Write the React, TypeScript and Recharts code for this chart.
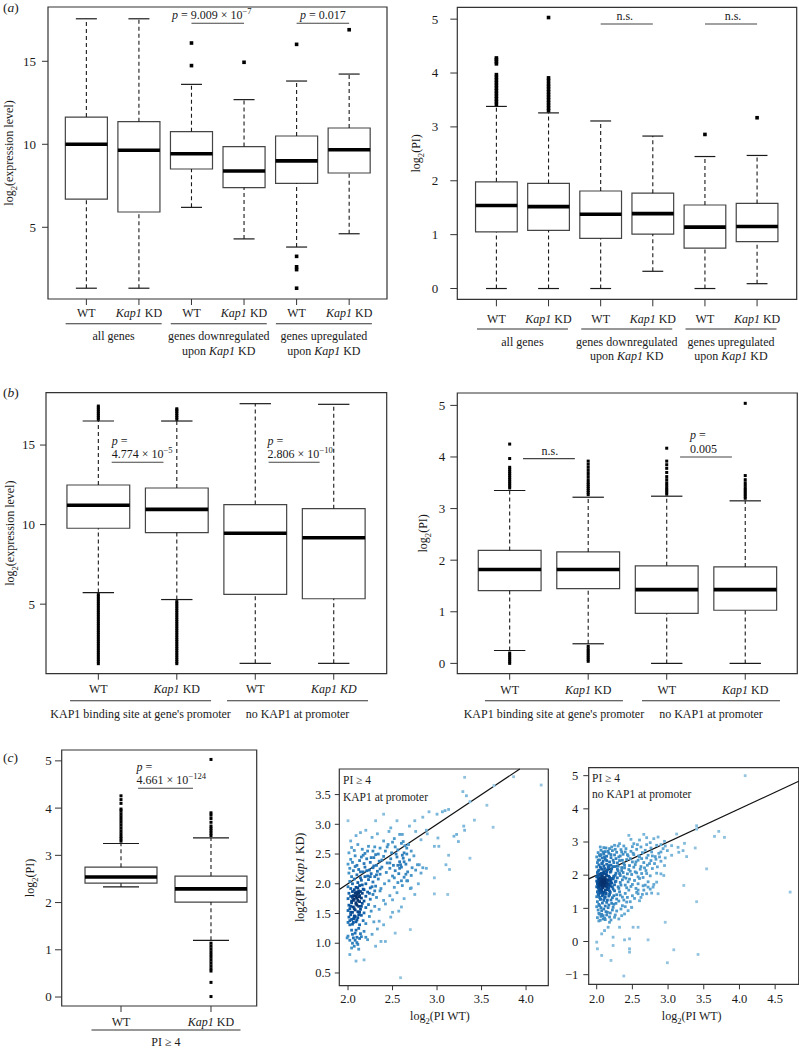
import React from "react";
import { ComposedChart, ScatterChart, Scatter, XAxis, YAxis, ReferenceArea, ReferenceLine } from "recharts";

const FONT = "'Liberation Serif', Tinos, 'Times New Roman', Times, serif";
const INK = "#1a1a1a";
const FRAME = "#333";

// ---------- (a) expression / PI by regulation group ----------
const aPositions = [1, 2, 3, 4, 5, 6];
const aConditions = ["WT", "_Kap1_ KD", "WT", "_Kap1_ KD", "WT", "_Kap1_ KD"];
const aGroupCenters = [1.5, 3.5, 5.5];
const aGroups = [["all genes"], ["genes downregulated", "upon _Kap1_ KD"], ["genes upregulated", "upon _Kap1_ KD"]];

const aExprLow = [1.33, 1.33, 6.2, 4.3, 3.81, 4.61];
const aExprQ1 = [6.7, 5.92, 8.51, 7.39, 7.65, 8.27];
const aExprMed = [10.0, 9.64, 9.43, 8.39, 9.0, 9.67];
const aExprQ3 = [11.64, 11.36, 10.76, 9.86, 10.5, 10.98];
const aExprHigh = [17.56, 17.56, 13.61, 12.69, 13.81, 14.23];
const aExprOut = [[], [], [16.1, 14.74], [14.94], [16.02, 3.25, 2.62, 2.45, 1.33], [16.9]];
const aExprBrackets = [
  { from: 3, to: 4, y: 17.29, lines: ["_p_ = 9.009 × 10^−7^"], align: "middle", dx: -6 },
  { from: 5, to: 6, y: 17.29, lines: ["_p_ = 0.017"], align: "middle", dx: 0 },
];

const aPiLow = [0, 0, 0, 0.32, 0, 0.09];
const aPiQ1 = [1.05, 1.08, 0.93, 1.01, 0.75, 0.87];
const aPiMed = [1.54, 1.52, 1.38, 1.39, 1.14, 1.15];
const aPiQ3 = [1.98, 1.95, 1.81, 1.77, 1.55, 1.58];
const aPiHigh = [3.38, 3.26, 3.11, 2.83, 2.45, 2.47];
const aPiOut = [
  [3.42, 3.47, 3.52, 3.57, 3.62, 3.67, 3.72, 3.77, 3.82, 3.87, 3.92, 3.97, 4.17, 4.21, 4.25, 4.28],
  [3.3, 3.35, 3.4, 3.45, 3.5, 3.55, 3.6, 3.65, 3.7, 3.75, 3.8, 3.86, 3.91, 5.03],
  [], [], [2.86], [3.17],
];
const aPiBrackets = [
  { from: 3, to: 4, y: 4.91, lines: ["n.s."], align: "middle", dx: -2 },
  { from: 5, to: 6, y: 4.91, lines: ["n.s."], align: "middle", dx: 2 },
];

// ---------- (b) KAP1 binding at promoter ----------
const bPositions = [1, 2, 3, 4];
const bConditions = ["WT", "_Kap1_ KD", "WT", "_Kap1 KD_"];
const bPiConditions = ["WT", "_Kap1_ KD", "WT", "_Kap1_ KD"];
const bGroupCenters = [1.5, 3.5];
const bGroups = [["KAP1 binding site at gene's promoter"], ["no KAP1 at promoter"]];

const bExprLow = [5.73, 5.29, 1.28, 1.28];
const bExprQ1 = [9.77, 9.5, 5.61, 5.34];
const bExprMed = [11.22, 10.96, 9.46, 9.17];
const bExprQ3 = [12.49, 12.3, 11.26, 11.0];
const bExprHigh = [16.51, 16.51, 17.6, 17.56];
const bExprOut = [
  [16.62, 16.74, 16.86, 16.98, 17.1, 17.22, 17.34, 17.45, 5.6, 5.46, 5.32, 5.18, 5.04, 4.9, 4.76, 4.62, 4.48, 4.34, 4.2,
    4.06, 3.92, 3.78, 3.64, 3.5, 3.36, 3.22, 3.08, 2.94, 2.8, 2.66, 2.52, 2.38, 2.24, 2.1, 1.96, 1.82, 1.68, 1.54, 1.4, 1.26],
  [16.62, 16.74, 16.86, 16.98, 17.1, 17.2, 17.28, 5.16, 5.02, 4.88, 4.74, 4.6, 4.46, 4.32, 4.18, 4.04, 3.9, 3.76, 3.62,
    3.48, 3.34, 3.2, 3.06, 2.92, 2.78, 2.64, 2.5, 2.36, 2.22, 2.08, 1.94, 1.8, 1.66, 1.52, 1.38, 1.26],
  [], [],
];
const bExprBrackets = [
  { from: 1.17, to: 1.83, y: 13.92, lines: ["_p_ =", "4.774 × 10^−5^"], align: "start", dx: 0 },
  { from: 3.17, to: 3.82, y: 13.92, lines: ["_p_ =", "2.806 × 10^−10^"], align: "start", dx: -1 },
];

const bPiLow = [0.25, 0.38, 0, 0];
const bPiQ1 = [1.41, 1.45, 0.97, 1.03];
const bPiMed = [1.82, 1.82, 1.43, 1.43];
const bPiQ3 = [2.19, 2.16, 1.89, 1.87];
const bPiHigh = [3.35, 3.22, 3.24, 3.15];
const bPiOut = [
  [3.4, 3.44, 3.48, 3.52, 3.56, 3.6, 3.64, 3.68, 3.72, 3.76, 3.8, 3.97, 4.25, 0.2, 0.16, 0.12, 0.08, 0.04, 0.0],
  [3.27, 3.31, 3.35, 3.39, 3.43, 3.47, 3.51, 3.56, 3.62, 3.68, 3.74, 3.8, 3.86, 3.92, 0.33, 0.28, 0.24, 0.2, 0.16, 0.12, 0.08, 0.04],
  [3.28, 3.32, 3.36, 3.4, 3.45, 3.5, 3.56, 3.62, 3.7, 3.78, 3.85, 3.92, 4.17],
  [3.2, 3.24, 3.28, 3.32, 3.36, 3.4, 3.45, 3.5, 3.56, 3.64, 5.04],
];
const bPiBrackets = [
  { from: 1.17, to: 1.83, y: 3.97, lines: ["n.s."], align: "middle", dx: 1 },
  { from: 3.17, to: 3.83, y: 4.0, lines: ["_p_ =", "0.005"], align: "start", dx: 10 },
];

// ---------- (c) PI >= 4 ----------
const cPositions = [1, 2];
const cConditions = ["WT", "_Kap1_ KD"];
const cGroupCenters = [1.5];
const cGroups = [["PI ≥ 4"]];
const cLow = [2.33, 1.2];
const cQ1 = [2.41, 2.01];
const cMed = [2.54, 2.29];
const cQ3 = [2.75, 2.56];
const cHigh = [3.25, 3.37];
const cOut = [
  [3.3, 3.35, 3.4, 3.46, 3.52, 3.58, 3.64, 3.7, 3.76, 3.82, 3.88, 3.94, 3.98, 4.1, 4.18, 4.26],
  [3.42, 3.47, 3.52, 3.57, 3.62, 3.7, 3.78, 3.85, 3.9, 5.03, 1.14, 1.08, 1.02, 0.96, 0.9, 0.84, 0.78, 0.72, 0.66, 0.6, 0.55, 0.31, 0.01],
];
const cBrackets = [{ from: 1.19, to: 1.8, y: 4.42, lines: ["_p_ =", "4.661 × 10^−124^"], align: "start", dx: -1.5 }];

// log2(PI WT) vs log2(PI Kap1 KD), KAP1 at promoter
const kapPromoterPoints: [number, number][] = [
  [3.31, 3.79], [4.17, 3.66], [3.86, 3.8], [3.64, 3.65], [3.33, 3.48], [3.29, 3.55], [3.37, 3.38], [3.56, 3.32], [3.63, 2.95],
  [3.42, 3.07], [3.3, 2.97], [3.31, 2.9], [3.22, 2.83], [3.24, 2.71], [3.37, 2.43], [3.19, 2.8], [3.13, 2.48], [3.1, 2.32],
  [3.14, 2.24], [3.12, 1.82], [2.97, 1.83], [3.06, 3.21], [3.09, 3.23], [3.13, 3.25], [3.0, 3.17], [2.91, 3.21], [3.01, 2.77],
  [3.02, 2.63], [2.97, 2.63], [2.89, 2.84], [2.88, 2.9], [2.82, 2.74], [2.76, 2.88], [2.69, 2.97], [2.75, 3.06], [2.84, 3.12],
  [2.4, 3.17], [2.55, 3.06], [2.48, 2.94], [2.61, 2.83], [2.0, 3.06], [2.2, 2.9], [2.31, 3.06], [2.8, 2.32], [2.84, 2.27],
  [2.72, 2.27], [2.65, 2.16], [2.67, 2.05], [2.71, 1.93], [2.75, 1.82], [2.57, 1.54], [2.35, 1.37], [2.53, 1.17], [2.31, 0.95],
  [2.02, 0.81], [2.09, 0.7], [2.18, 0.72], [2.59, 0.42], [1.99, 1.09], [2.7, 1.23], [2.5, 1.73], [2.97, 2.1], [2.59, 2.32],
  [2.03, 2.72], [2.09, 2.81], [2.14, 2.86], [2.27, 2.78], [2.33, 2.84], [2.4, 2.72], [2.46, 2.88], [2.52, 2.76], [2.58, 2.83],
  [2.62, 2.71], [2.68, 2.66], [2.01, 2.52], [2.04, 2.61], [2.07, 2.56], [2.11, 2.66], [2.16, 2.58], [2.19, 2.51], [2.23, 2.63],
  [2.28, 2.55], [2.31, 2.49], [2.36, 2.6], [2.42, 2.55], [2.45, 2.66], [2.49, 2.52], [2.53, 2.62], [2.56, 2.57], [2.6, 2.68],
  [2.63, 2.52], [2.66, 2.6], [2.71, 2.55], [2.0, 2.33], [2.03, 2.41], [2.05, 2.36], [2.08, 2.47], [2.1, 2.31], [2.13, 2.39],
  [2.15, 2.45], [2.18, 2.34], [2.21, 2.42], [2.25, 2.36], [2.29, 2.44], [2.32, 2.31], [2.35, 2.38], [2.4, 2.46], [2.44, 2.35],
  [2.48, 2.42], [2.51, 2.31], [2.55, 2.45], [2.58, 2.37], [2.62, 2.43], [2.65, 2.33], [2.69, 2.4], [2.74, 2.47], [2.78, 2.32],
  [2.01, 2.18], [2.02, 2.26], [2.04, 2.12], [2.06, 2.22], [2.08, 2.29], [2.1, 2.15], [2.12, 2.24], [2.14, 2.1], [2.17, 2.2],
  [2.19, 2.28], [2.22, 2.13], [2.24, 2.23], [2.26, 2.17], [2.28, 2.27], [2.3, 2.12], [2.33, 2.21], [2.36, 2.16], [2.38, 2.28],
  [2.43, 2.19], [2.47, 2.26], [2.5, 2.13], [2.53, 2.22], [2.57, 2.17], [2.6, 2.28], [2.63, 2.11], [2.67, 2.2], [2.71, 2.14],
  [2.76, 2.23], [2.82, 2.18], [2.88, 2.26], [2.0, 1.95], [2.02, 2.04], [2.03, 1.92], [2.05, 2.0], [2.07, 2.08], [2.09, 1.94],
  [2.11, 2.02], [2.13, 1.97], [2.15, 2.06], [2.17, 1.91], [2.2, 2.0], [2.23, 2.07], [2.25, 1.93], [2.28, 2.03], [2.31, 1.96],
  [2.34, 2.08], [2.37, 1.92], [2.41, 2.0], [2.46, 2.05], [2.52, 1.94], [2.56, 2.02], [2.61, 1.97], [2.66, 2.05], [2.7, 1.92],
  [2.79, 2.0], [2.0, 1.75], [2.01, 1.84], [2.03, 1.79], [2.04, 1.71], [2.05, 1.87], [2.06, 1.8], [2.07, 1.74], [2.08, 1.85],
  [2.09, 1.78], [2.1, 1.82], [2.11, 1.72], [2.12, 1.88], [2.13, 1.8], [2.15, 1.76], [2.16, 1.84], [2.18, 1.71], [2.2, 1.79],
  [2.22, 1.86], [2.25, 1.74], [2.28, 1.82], [2.32, 1.77], [2.36, 1.88], [2.4, 1.72], [2.47, 1.8], [2.55, 1.85], [2.63, 1.75],
  [2.0, 1.55], [2.01, 1.64], [2.02, 1.58], [2.04, 1.68], [2.05, 1.52], [2.06, 1.61], [2.08, 1.56], [2.09, 1.66], [2.11, 1.53],
  [2.12, 1.62], [2.14, 1.57], [2.16, 1.67], [2.18, 1.51], [2.2, 1.6], [2.23, 1.65], [2.26, 1.54], [2.3, 1.62], [2.35, 1.57],
  [2.42, 1.66], [2.5, 1.52], [2.6, 1.61], [2.0, 1.35], [2.01, 1.44], [2.02, 1.38], [2.03, 1.48], [2.05, 1.32], [2.06, 1.41],
  [2.07, 1.46], [2.09, 1.36], [2.11, 1.43], [2.13, 1.31], [2.15, 1.47], [2.17, 1.38], [2.2, 1.33], [2.24, 1.45], [2.29, 1.36],
  [2.4, 1.31], [2.48, 1.44], [2.0, 1.12], [2.02, 1.05], [2.04, 1.22], [2.06, 1.09], [2.08, 1.17], [2.1, 1.01], [2.12, 1.25],
  [2.15, 1.11], [2.18, 1.2], [2.22, 1.06], [2.27, 1.15], [2.33, 1.24], [2.37, 1.03], [2.42, 1.03], [2.07, 0.95], [2.12, 0.9],
  [2.44, 2.62], [2.5, 2.7], [2.54, 2.5], [2.58, 2.26], [2.61, 2.48], [2.64, 2.64], [2.47, 2.35], [2.52, 2.1], [2.56, 2.31],
  [2.6, 2.05], [2.63, 2.37], [2.66, 2.5], [2.02, 1.31], [2.04, 1.4], [2.06, 1.35], [2.08, 1.45], [2.1, 1.39], [2.12, 1.48],
  [2.03, 1.52], [2.07, 1.42], [2.05, 1.0], [2.08, 1.05], [2.11, 0.98], [2.13, 1.08], [2.06, 1.72], [2.08, 1.8], [2.1, 1.76],
  [2.12, 1.84], [2.07, 1.9], [2.09, 1.68], [2.11, 1.93], [2.13, 1.7], [2.14, 1.87], [2.05, 1.77], [2.1, 1.86], [2.12, 1.78],
  [2.17, 2.48], [2.22, 2.55], [2.26, 2.44], [2.3, 2.62], [2.34, 2.5], [2.38, 2.4], [2.21, 2.22], [2.25, 2.12], [2.29, 2.3],
  [2.32, 2.15], [2.36, 2.25], [2.16, 1.98], [2.19, 2.12], [2.14, 2.2], [2.18, 1.9], [2.24, 1.84], [2.27, 1.95], [2.3, 1.88],
  [2.03, 1.62], [2.07, 1.58], [2.1, 1.64], [2.13, 1.52], [2.15, 1.62], [2.05, 1.15], [2.09, 1.22], [2.14, 1.16], [2.2, 1.1],
  [2.04, 0.92], [2.1, 1.1],
];

// log2(PI WT) vs log2(PI Kap1 KD), no KAP1 at promoter
const noKapPromoterPoints: [number, number][] = [
  [4.08, 5.0], [4.71, 1.49], [3.4, 3.49], [3.4, 3.39], [3.65, 3.17], [3.71, 3.32], [3.79, 3.14], [3.54, 2.19], [3.4, 1.2],
  [3.22, 1.69], [3.42, -0.39], [2.99, -0.64], [3.08, -0.25], [2.96, 0.58], [2.72, 0.05], [2.38, -1.04], [3.12, 3.24],
  [3.23, 2.96], [3.14, 2.84], [3.15, 2.69], [3.26, 2.56], [3.38, 2.82], [3.21, 2.74], [3.05, 2.89], [2.99, 2.74], [2.96, 2.52],
  [2.95, 2.29], [2.9, 2.04], [2.94, 1.99], [2.84, 1.79], [2.79, 1.64], [2.86, 1.44], [2.77, 1.46], [2.7, 1.44], [2.72, 1.64],
  [2.58, 1.44], [2.6, 1.23], [2.51, 0.43], [2.58, 0.43], [2.46, 0.08], [2.39, 0.05], [2.46, -0.22], [2.46, -0.32], [2.32, 0.43],
  [2.23, 0.13], [2.2, -0.57], [2.07, -0.42], [2.0, -0.02], [2.01, -0.22], [2.23, -0.12], [2.07, 0.23], [2.11, 0.33], [2.16, 0.43],
  [2.18, 0.58], [2.25, 0.73], [2.35, 0.78], [2.39, 0.83], [2.04, 0.83], [2.09, 0.68], [2.49, 1.03], [2.44, 0.93],
  [2.1, 2.83], [2.25, 2.9], [2.45, 3.2], [2.48, 3.08], [2.52, 2.95], [2.6, 3.06], [2.66, 3.23], [2.7, 3.13], [2.75, 2.98],
  [2.8, 3.1], [2.86, 3.15], [2.9, 2.92], [2.95, 3.02], [2.38, 2.88], [2.05, 2.85], [2.18, 2.8], [2.32, 2.95],
  [2.0, 2.55], [2.02, 2.68], [2.04, 2.6], [2.06, 2.75], [2.08, 2.52], [2.1, 2.64], [2.12, 2.71], [2.14, 2.57], [2.17, 2.66],
  [2.2, 2.53], [2.22, 2.74], [2.25, 2.61], [2.28, 2.69], [2.31, 2.55], [2.34, 2.77], [2.37, 2.63], [2.4, 2.7], [2.44, 2.58],
  [2.48, 2.72], [2.52, 2.62], [2.56, 2.78], [2.6, 2.55], [2.64, 2.68], [2.68, 2.75], [2.72, 2.6], [2.77, 2.7], [2.82, 2.56],
  [2.87, 2.66], [3.05, 2.6], [2.93, 2.8], [2.0, 2.25], [2.01, 2.38], [2.03, 2.31], [2.04, 2.46], [2.06, 2.22], [2.07, 2.35],
  [2.09, 2.42], [2.1, 2.28], [2.12, 2.48], [2.14, 2.33], [2.16, 2.24], [2.18, 2.4], [2.2, 2.3], [2.23, 2.45], [2.26, 2.26],
  [2.29, 2.37], [2.32, 2.44], [2.35, 2.23], [2.38, 2.35], [2.42, 2.47], [2.46, 2.29], [2.5, 2.4], [2.54, 2.32], [2.58, 2.45],
  [2.62, 2.26], [2.66, 2.38], [2.71, 2.3], [2.76, 2.44], [2.81, 2.35], [2.85, 2.25], [2.9, 2.42], [2.0, 1.95], [2.01, 2.08],
  [2.02, 2.01], [2.03, 2.15], [2.05, 1.92], [2.06, 2.05], [2.07, 2.18], [2.08, 1.98], [2.1, 2.11], [2.11, 1.93], [2.13, 2.03],
  [2.15, 2.16], [2.17, 1.97], [2.19, 2.09], [2.21, 2.19], [2.24, 1.94], [2.27, 2.06], [2.3, 2.13], [2.33, 1.99], [2.37, 2.08],
  [2.41, 1.91], [2.45, 2.17], [2.49, 2.02], [2.54, 2.1], [2.58, 1.95], [2.63, 2.05], [2.69, 2.14], [2.75, 1.98], [2.84, 2.06],
  [2.0, 1.65], [2.0, 1.82], [2.01, 1.74], [2.02, 1.88], [2.02, 1.62], [2.03, 1.78], [2.04, 1.7], [2.04, 1.85], [2.05, 1.66],
  [2.06, 1.79], [2.06, 1.9], [2.07, 1.72], [2.08, 1.83], [2.08, 1.64], [2.09, 1.77], [2.1, 1.87], [2.1, 1.69], [2.11, 1.8],
  [2.12, 1.73], [2.13, 1.86], [2.14, 1.63], [2.15, 1.78], [2.16, 1.7], [2.18, 1.84], [2.19, 1.67], [2.21, 1.76], [2.23, 1.89],
  [2.25, 1.71], [2.27, 1.82], [2.3, 1.65], [2.33, 1.78], [2.36, 1.86], [2.4, 1.7], [2.44, 1.8], [2.48, 1.66], [2.53, 1.84],
  [2.58, 1.74], [2.65, 1.68], [2.72, 1.8], [2.8, 1.72], [2.0, 1.35], [2.01, 1.5], [2.02, 1.42], [2.03, 1.57], [2.04, 1.33],
  [2.05, 1.46], [2.07, 1.54], [2.08, 1.38], [2.1, 1.49], [2.11, 1.31], [2.13, 1.44], [2.15, 1.56], [2.17, 1.37], [2.19, 1.48],
  [2.22, 1.32], [2.25, 1.53], [2.28, 1.41], [2.32, 1.5], [2.36, 1.34], [2.4, 1.45], [2.45, 1.55], [2.5, 1.38], [2.56, 1.48],
  [2.62, 1.33], [2.0, 1.05], [2.01, 1.2], [2.03, 1.12], [2.05, 1.27], [2.06, 1.02], [2.08, 1.16], [2.1, 1.24], [2.12, 1.07],
  [2.14, 1.18], [2.17, 1.1], [2.2, 1.25], [2.23, 1.03], [2.27, 1.15], [2.31, 1.22], [2.36, 1.08], [2.42, 1.19], [2.49, 1.03],
  [2.01, 0.72], [2.03, 0.85], [2.05, 0.64], [2.07, 0.93], [2.09, 0.78], [2.12, 0.66], [2.15, 0.88], [2.18, 0.74], [2.22, 0.95],
  [2.26, 0.8], [2.31, 0.68], [2.01, 1.79], [2.02, 1.95], [2.03, 1.66], [2.04, 1.87], [2.05, 1.75], [2.05, 2.02], [2.06, 1.58],
  [2.07, 1.83], [2.07, 1.96], [2.08, 1.71], [2.09, 1.88], [2.09, 1.62], [2.1, 1.79], [2.1, 2.05], [2.11, 1.67], [2.12, 1.91],
  [2.12, 1.54], [2.13, 1.76], [2.14, 1.99], [2.15, 1.68], [2.16, 1.86], [2.17, 1.6], [2.18, 1.93], [2.19, 1.75], [2.2, 1.83],
  [2.22, 1.65], [2.24, 1.97], [2.02, 1.7], [2.04, 1.52], [2.06, 1.92], [2.08, 1.48], [2.11, 1.84], [2.13, 1.45], [2.16, 1.72],
  [2.18, 1.52], [2.21, 1.9], [2.23, 1.58], [2.26, 1.8], [2.29, 1.92], [2.31, 1.6], [2.34, 1.7], [2.38, 1.95], [2.42, 1.62],
  [2.46, 1.88], [2.5, 1.72], [2.55, 1.6], [2.6, 1.9], [2.66, 1.55],
  [2.02, 2.45], [2.05, 2.58], [2.08, 2.36], [2.11, 2.55], [2.14, 2.44], [2.17, 2.29], [2.2, 2.62], [2.24, 2.38], [2.27, 2.5],
  [2.3, 2.27], [2.33, 2.58], [2.36, 2.45], [2.39, 2.3], [2.43, 2.62], [2.47, 2.5], [2.51, 2.66], [2.55, 2.4], [2.59, 2.58],
  [2.63, 2.5], [2.67, 2.22], [2.7, 2.52], [2.74, 2.35], [2.78, 2.58], [2.83, 2.48], [2.88, 2.55], [2.02, 2.12], [2.05, 2.25],
  [2.08, 2.06], [2.11, 2.2], [2.14, 2.09], [2.17, 2.22], [2.2, 2.12], [2.23, 2.26], [2.26, 2.0], [2.29, 2.18], [2.32, 2.05],
  [2.35, 2.14], [2.39, 2.22], [2.43, 2.04], [2.47, 2.12], [2.52, 2.24], [2.56, 2.07], [2.61, 2.18], [2.65, 1.93], [2.7, 2.05],
  [2.78, 2.2], [2.03, 1.4], [2.06, 1.28], [2.09, 1.42], [2.12, 1.35], [2.15, 1.25], [2.18, 1.42], [2.21, 1.15], [2.24, 1.38],
  [2.28, 1.28], [2.33, 1.4], [2.38, 1.25], [2.43, 1.33], [2.47, 1.2], [2.53, 1.3], [2.58, 1.55], [2.64, 1.42], [2.68, 1.7],
  [2.75, 1.58], [2.02, 0.95], [2.04, 1.08], [2.07, 0.82], [2.1, 0.98], [2.13, 0.9], [2.16, 1.02], [2.19, 0.86], [2.24, 1.12],
  [2.28, 0.92], [2.34, 0.98], [2.4, 1.05], [2.03, 0.62], [2.06, 0.76], [2.11, 0.7], [2.14, 0.8], [2.2, 0.65], [2.06, 2.62],
  [2.09, 2.7], [2.13, 2.82], [2.16, 2.72], [2.21, 2.85], [2.26, 2.78], [2.3, 2.88], [2.35, 2.7], [2.41, 2.8], [2.5, 2.86],
  [2.57, 2.92], [2.62, 2.85], [2.7, 2.92], [2.76, 2.82], [2.84, 2.9], [2.9, 2.7], [2.96, 2.88],
];

// ---------- helpers ----------
function rich(s: string, size: number) {
  const out: React.ReactNode[] = [];
  let italic = false;
  let mode = 0;
  let shift = 0;
  let buf = "";
  const flush = () => {
    if (!buf) return;
    const target = mode === 1 ? -size * 0.42 : mode === -1 ? size * 0.3 : 0;
    out.push(
      <tspan key={out.length} dy={target - shift} fontStyle={italic ? "italic" : "normal"} fontSize={mode ? size * 0.72 : size}>
        {buf}
      </tspan>
    );
    shift = target;
    buf = "";
  };
  for (const ch of s) {
    if (ch === "_") { flush(); italic = !italic; }
    else if (ch === "^") { flush(); mode = mode === 1 ? 0 : 1; }
    else if (ch === "~") { flush(); mode = mode === -1 ? 0 : -1; }
    else buf += ch;
  }
  flush();
  return out;
}

const BLUES = [[150, 197, 224], [107, 174, 214], [66, 146, 198], [33, 113, 181], [8, 81, 156], [8, 48, 107]];
function blue(t: number) {
  const f = Math.max(0, Math.min(1, t)) * (BLUES.length - 1);
  const i = Math.min(BLUES.length - 2, Math.floor(f));
  const u = f - i;
  const c = BLUES[i].map((v, k) => Math.round(v + (BLUES[i + 1][k] - v) * u));
  return `rgb(${c.join(",")})`;
}

// colour each point by local density, like R's densCols
function densityColored(pts: [number, number][], sx: number, sy: number) {
  const dens = pts.map(([x, y]) =>
    pts.reduce((s, [u, v]) => s + Math.exp(-(((x - u) / sx) ** 2 + ((y - v) / sy) ** 2) / 2), 0)
  );
  const lo = Math.min(...dens);
  const hi = Math.max(...dens);
  return pts
    .map(([x, y], i) => ({ x, y, d: dens[i], c: blue(Math.pow((dens[i] - lo) / (hi - lo), 0.7)) }))
    .sort((a, b) => a.d - b.d);
}

const kapPromoterColored = densityColored(kapPromoterPoints, 0.07, 0.12);
const noKapPromoterColored = densityColored(noKapPromoterPoints, 0.07, 0.2);

function CondTick(props: any) {
  const { x, y, payload, labels, positions, dy, size } = props;
  const i = positions.indexOf(payload.value);
  if (i < 0) return null;
  return (
    <text x={x} y={y + dy} textAnchor="middle" fontSize={size} fontFamily={FONT} fill={INK}>
      {rich(labels[i], size)}
    </text>
  );
}

function GroupTick(props: any) {
  const { x, y, payload, centers, labels, width, shift, lineDy, textDy, size } = props;
  const i = centers.indexOf(payload.value);
  if (i < 0) return null;
  const cx = x + shift;
  return (
    <g>
      <line x1={cx - width / 2} x2={cx + width / 2} y1={y + lineDy} y2={y + lineDy} stroke={FRAME} strokeWidth={1.1} />
      {labels[i].map((l: string, k: number) => (
        <text key={k} x={cx} y={y + textDy + k * 14.5} textAnchor="middle" fontSize={size} fontFamily={FONT} fill={INK}>
          {rich(l, size)}
        </text>
      ))}
    </g>
  );
}

function YNumTick(props: any) {
  const { x, y, payload, size, fmt } = props;
  return (
    <text x={x} y={y + size * 0.34} textAnchor="end" fontSize={size} fontFamily={FONT} fill={INK}>
      {fmt(payload.value)}
    </text>
  );
}

function XNumTick(props: any) {
  const { x, y, payload, size, fmt, dy } = props;
  return (
    <text x={x} y={y + dy} textAnchor="middle" fontSize={size} fontFamily={FONT} fill={INK}>
      {fmt(payload.value)}
    </text>
  );
}

function Title(props: any) {
  const { tx, ty, text, size, vertical } = props;
  return (
    <text x={tx} y={ty} textAnchor="middle" fontSize={size} fontFamily={FONT} fill={INK}
      transform={vertical ? `rotate(-90 ${tx} ${ty})` : undefined}>
      {rich(text, size)}
    </text>
  );
}

function BracketLabel(props: any) {
  const { viewBox, lines, align, dx, size } = props;
  if (!viewBox) return null;
  const x0 = align === "start" ? viewBox.x + dx : viewBox.x + viewBox.width / 2 + dx;
  const base = viewBox.y - 4;
  return (
    <g>
      {lines.map((l: string, k: number) => (
        <text key={k} x={x0} y={base - (lines.length - 1 - k) * 13.6} textAnchor={align} fontSize={size} fontFamily={FONT} fill={INK}>
          {rich(l, size)}
        </text>
      ))}
    </g>
  );
}

const intFmt = (v: number) => String(v).replace("-", "−");
const oneDec = (v: number) => v.toFixed(1).replace("-", "−");

function BoxPanel(p: any) {
  const half = 0.4;
  const cap = 0.2;
  const plotH = p.height - p.margin.top - p.margin.bottom - p.condAxisH - p.groupAxisH;
  const outlierPts = p.outliers.flatMap((vals: number[], i: number) => vals.map((v) => ({ x: p.positions[i], y: v })));
  const s = p.pointSize;
  return (
    <div style={{ position: "absolute", left: p.left, top: p.top }}>
      <ComposedChart width={p.width} height={p.height} margin={p.margin}>
        <XAxis xAxisId={0} type="number" dataKey="x" domain={p.xDomain} allowDataOverflow ticks={p.positions} interval={0}
          tickSize={p.xTickSize} tickMargin={2} axisLine={false} tickLine={{ stroke: FRAME }} height={p.condAxisH}
          tick={(t: any) => <CondTick {...t} labels={p.conditions} positions={p.positions} dy={p.condDy} size={12} />} />
        <XAxis xAxisId="g" type="number" dataKey="x" domain={p.xDomain} allowDataOverflow ticks={p.groupCenters} interval={0}
          tickSize={0} tickMargin={0} axisLine={false} tickLine={false} height={p.groupAxisH}
          tick={(t: any) => (
            <GroupTick {...t} centers={p.groupCenters} labels={p.groups} width={p.groupWidth} shift={p.groupShift}
              lineDy={p.groupLineDy} textDy={p.groupTextDy} size={12} />
          )} />
        <YAxis type="number" dataKey="y" domain={p.yDomain} allowDataOverflow ticks={p.yTicks} interval={0} width={p.yAxisWidth}
          tickSize={p.yTickSize} tickMargin={p.yTickMargin} axisLine={false} tickLine={{ stroke: FRAME }}
          tick={(t: any) => <YNumTick {...t} size={13} fmt={intFmt} />}
          label={<Title tx={p.yLabelX} ty={p.margin.top + plotH / 2} text={p.yLabel} size={12} vertical />} />
        <ReferenceArea x1={p.xDomain[0]} x2={p.xDomain[1]} y1={p.yDomain[0]} y2={p.yDomain[1]} fill="none" fillOpacity={0}
          stroke={FRAME} strokeWidth={1.2} ifOverflow="visible" />
        {p.positions.map((x: number, i: number) => (
          <ReferenceArea key={`b${i}`} x1={x - half} x2={x + half} y1={p.q1[i]} y2={p.q3[i]} fill="none" fillOpacity={0}
            stroke="#444" strokeWidth={1.2} ifOverflow="visible" />
        ))}
        {p.positions.map((x: number, i: number) => (
          <ReferenceLine key={`wu${i}`} segment={[{ x, y: p.q3[i] }, { x, y: p.high[i] }]} stroke={INK} strokeWidth={1.1}
            strokeDasharray="4 3" ifOverflow="visible" />
        ))}
        {p.positions.map((x: number, i: number) => (
          <ReferenceLine key={`wl${i}`} segment={[{ x, y: p.low[i] }, { x, y: p.q1[i] }]} stroke={INK} strokeWidth={1.1}
            strokeDasharray="4 3" ifOverflow="visible" />
        ))}
        {p.positions.map((x: number, i: number) => (
          <ReferenceLine key={`cu${i}`} segment={[{ x: x - cap, y: p.high[i] }, { x: x + cap, y: p.high[i] }]} stroke={INK}
            strokeWidth={1.2} ifOverflow="visible" />
        ))}
        {p.positions.map((x: number, i: number) => (
          <ReferenceLine key={`cl${i}`} segment={[{ x: x - cap, y: p.low[i] }, { x: x + cap, y: p.low[i] }]} stroke={INK}
            strokeWidth={1.2} ifOverflow="visible" />
        ))}
        {p.positions.map((x: number, i: number) => (
          <ReferenceLine key={`m${i}`} segment={[{ x: x - half, y: p.med[i] }, { x: x + half, y: p.med[i] }]} stroke="#000"
            strokeWidth={3.6} ifOverflow="visible" />
        ))}
        {p.brackets.map((b: any, i: number) => (
          <ReferenceLine key={`br${i}`} segment={[{ x: b.from, y: b.y }, { x: b.to, y: b.y }]} stroke="#444" strokeWidth={1.2}
            ifOverflow="visible"
            label={<BracketLabel lines={b.lines} align={b.align} dx={b.dx} size={12} />} />
        ))}
        <Scatter data={outlierPts} isAnimationActive={false}
          shape={(d: any) => <rect x={d.cx - s / 2} y={d.cy - s / 2} width={s} height={s} fill="#000" />} />
      </ComposedChart>
    </div>
  );
}

function ScatterPanel(p: any) {
  const plotH = p.height - p.margin.top - p.margin.bottom - p.xAxisH;
  const lo = Math.max(p.xDomain[0], p.yDomain[0]);
  const hi = Math.min(p.xDomain[1], p.yDomain[1]);
  return (
    <div style={{ position: "absolute", left: p.left, top: p.top }}>
      <ScatterChart width={p.width} height={p.height} margin={p.margin}>
        <XAxis type="number" dataKey="x" domain={p.xDomain} allowDataOverflow ticks={p.xTicks} interval={0}
          tickSize={p.xTickSize} tickMargin={2} axisLine={false} tickLine={{ stroke: FRAME }} height={p.xAxisH}
          tick={(t: any) => <XNumTick {...t} size={12.5} fmt={oneDec} dy={p.xTickDy} />}
          label={<Title tx={p.xLabelX} ty={p.xLabelY} text="log~2~(PI WT)" size={12} />} />
        <YAxis type="number" dataKey="y" domain={p.yDomain} allowDataOverflow ticks={p.yTicks} interval={0} width={p.yAxisWidth}
          tickSize={p.yTickSize} tickMargin={p.yTickMargin} axisLine={false} tickLine={{ stroke: FRAME }}
          tick={(t: any) => <YNumTick {...t} size={12.5} fmt={p.yFmt} />}
          label={p.yLabel ? <Title tx={p.yLabelX} ty={p.margin.top + plotH / 2} text={p.yLabel} size={12} vertical /> : undefined} />
        <Scatter data={p.points} isAnimationActive={false}
          shape={(d: any) => <rect x={d.cx - 1.4} y={d.cy - 1.4} width={2.8} height={2.8} fill={d.payload.c} />} />
        <ReferenceLine segment={[{ x: lo, y: lo }, { x: hi, y: hi }]} stroke="#111" strokeWidth={1.2} ifOverflow="visible" />
        <ReferenceArea x1={p.xDomain[0]} x2={p.xDomain[1]} y1={p.yDomain[0]} y2={p.yDomain[1]} fill="none" fillOpacity={0}
          stroke={FRAME} strokeWidth={1.2} ifOverflow="visible" />
      </ScatterChart>
      {p.notes.map((n: string, k: number) => (
        <div key={k} style={{ position: "absolute", left: p.noteX, top: p.noteY + k * 16.7, fontFamily: FONT, fontSize: 11.5,
          lineHeight: "12px", color: INK, whiteSpace: "nowrap" }}>
          {n}
        </div>
      ))}
    </div>
  );
}

function Tag({ letter, top }: { letter: string; top: number }) {
  return (
    <div style={{ position: "absolute", left: 3, top, fontFamily: FONT, fontSize: 13.5, lineHeight: "14px", color: INK }}>
      (<i>{letter}</i>)
    </div>
  );
}

export default function App() {
  return (
    <div style={{ position: "absolute", left: 0, top: 0, width: 799, height: 1049, background: "#fff", overflow: "hidden" }}>
      <Tag letter="a" top={1} />
      <Tag letter="b" top={386} />
      <Tag letter="c" top={751} />

      <BoxPanel left={0} top={0} width={400} height={360} margin={{ top: 7, right: 13, bottom: 1, left: 0 }}
        yAxisWidth={48} xDomain={[0.27, 6.72]} yDomain={[0.68, 18.27]} yTicks={[5, 10, 15]} yTickSize={6} yTickMargin={6}
        positions={aPositions} conditions={aConditions} groupCenters={aGroupCenters} groups={aGroups}
        low={aExprLow} q1={aExprQ1} med={aExprMed} q3={aExprQ3} high={aExprHigh} outliers={aExprOut} brackets={aExprBrackets}
        xTickSize={6} condAxisH={20} condDy={10.3} groupAxisH={40} groupWidth={96} groupShift={1} groupLineDy={4.7} groupTextDy={21}
        yLabel="log~2~(expression level)" yLabelX={13} pointSize={3.6} />

      <BoxPanel left={400} top={0} width={399} height={365} margin={{ top: 7.3, right: 2.3, bottom: 0, left: 0 }}
        yAxisWidth={57.3} xDomain={[0.25, 6.76]} yDomain={[-0.2, 5.22]} yTicks={[0, 1, 2, 3, 4, 5]} yTickSize={7} yTickMargin={12}
        positions={aPositions} conditions={aConditions} groupCenters={aGroupCenters} groups={aGroups}
        low={aPiLow} q1={aPiQ1} med={aPiMed} q3={aPiQ3} high={aPiHigh} outliers={aPiOut} brackets={aPiBrackets}
        xTickSize={7} condAxisH={20} condDy={15} groupAxisH={45.7} groupWidth={91} groupShift={0} groupLineDy={9.7} groupTextDy={26.2}
        yLabel="log~2~(PI)" yLabelX={20} pointSize={3.6} />

      <BoxPanel left={0} top={380} width={400} height={345} margin={{ top: 12.7, right: 13.3, bottom: 0, left: 0 }}
        yAxisWidth={46} xDomain={[0.333, 4.675]} yDomain={[0.63, 18.29]} yTicks={[5, 10, 15]} yTickSize={6} yTickMargin={5}
        positions={bPositions} conditions={bConditions} groupCenters={bGroupCenters} groups={bGroups}
        low={bExprLow} q1={bExprQ1} med={bExprMed} q3={bExprQ3} high={bExprHigh} outliers={bExprOut} brackets={bExprBrackets}
        xTickSize={6} condAxisH={20} condDy={10.9} groupAxisH={31.3} groupWidth={141} groupShift={3} groupLineDy={7} groupTextDy={23.8}
        yLabel="log~2~(expression level)" yLabelX={14.5} pointSize={3} />

      <BoxPanel left={400} top={380} width={399} height={345} margin={{ top: 13, right: 1.7, bottom: 0, left: 0 }}
        yAxisWidth={57.3} xDomain={[0.333, 4.663]} yDomain={[-0.2, 5.24]} yTicks={[0, 1, 2, 3, 4, 5]} yTickSize={7} yTickMargin={5}
        positions={bPositions} conditions={bPiConditions} groupCenters={bGroupCenters} groups={bGroups}
        low={bPiLow} q1={bPiQ1} med={bPiMed} q3={bPiQ3} high={bPiHigh} outliers={bPiOut} brackets={bPiBrackets}
        xTickSize={6} condAxisH={20} condDy={12.6} groupAxisH={31.3} groupWidth={138} groupShift={5} groupLineDy={7} groupTextDy={23.8}
        yLabel="log~2~(PI)" yLabelX={27} pointSize={3} />

      <BoxPanel left={0} top={730} width={280} height={319} margin={{ top: 20, right: 23.3, bottom: 0, left: 0 }}
        yAxisWidth={61.7} xDomain={[0.341, 2.508]} yDomain={[-0.19, 5.23]} yTicks={[0, 1, 2, 3, 4, 5]} yTickSize={6.7} yTickMargin={3.3}
        positions={cPositions} conditions={cConditions} groupCenters={cGroupCenters} groups={cGroups}
        low={cLow} q1={cQ1} med={cMed} q3={cQ3} high={cHigh} outliers={cOut} brackets={cBrackets}
        xTickSize={6} condAxisH={18} condDy={12} groupAxisH={25} groupWidth={149} groupShift={0} groupLineDy={6} groupTextDy={22}
        yLabel="log~2~(PI)" yLabelX={34} pointSize={3} />

      <ScatterPanel left={280} top={750} width={275} height={299} margin={{ top: 19, right: 6.7, bottom: 0, left: 0 }}
        yAxisWidth={59.3} xAxisH={63.3} xDomain={[1.902, 4.25]} yDomain={[0.286, 3.93]}
        xTicks={[2, 2.5, 3, 3.5, 4]} yTicks={[0.5, 1, 1.5, 2, 2.5, 3, 3.5]} yFmt={oneDec}
        xTickSize={4.5} xTickDy={10.4} yTickSize={4.5} yTickMargin={4}
        xLabelX={160} xLabelY={270} yLabel="log2(PI _Kap1_ KD)" yLabelX={24}
        points={kapPromoterColored} notes={["PI ≥ 4", "KAP1 at promoter"]} noteX={63} noteY={24} />

      <ScatterPanel left={555} top={750} width={244} height={299} margin={{ top: 17.7, right: 0.3, bottom: 0, left: 0 }}
        yAxisWidth={33.7} xAxisH={64.7} xDomain={[1.888, 4.83]} yDomain={[-1.29, 5.24]}
        xTicks={[2, 2.5, 3, 3.5, 4, 4.5]} yTicks={[-1, 0, 1, 2, 3, 4, 5]} yFmt={intFmt}
        xTickSize={5} xTickDy={11.3} yTickSize={5.4} yTickMargin={5}
        xLabelX={136.7} xLabelY={270}
        points={noKapPromoterColored} notes={["PI ≥ 4", "no KAP1 at promoter"]} noteX={37} noteY={21.5} />
    </div>
  );
}
